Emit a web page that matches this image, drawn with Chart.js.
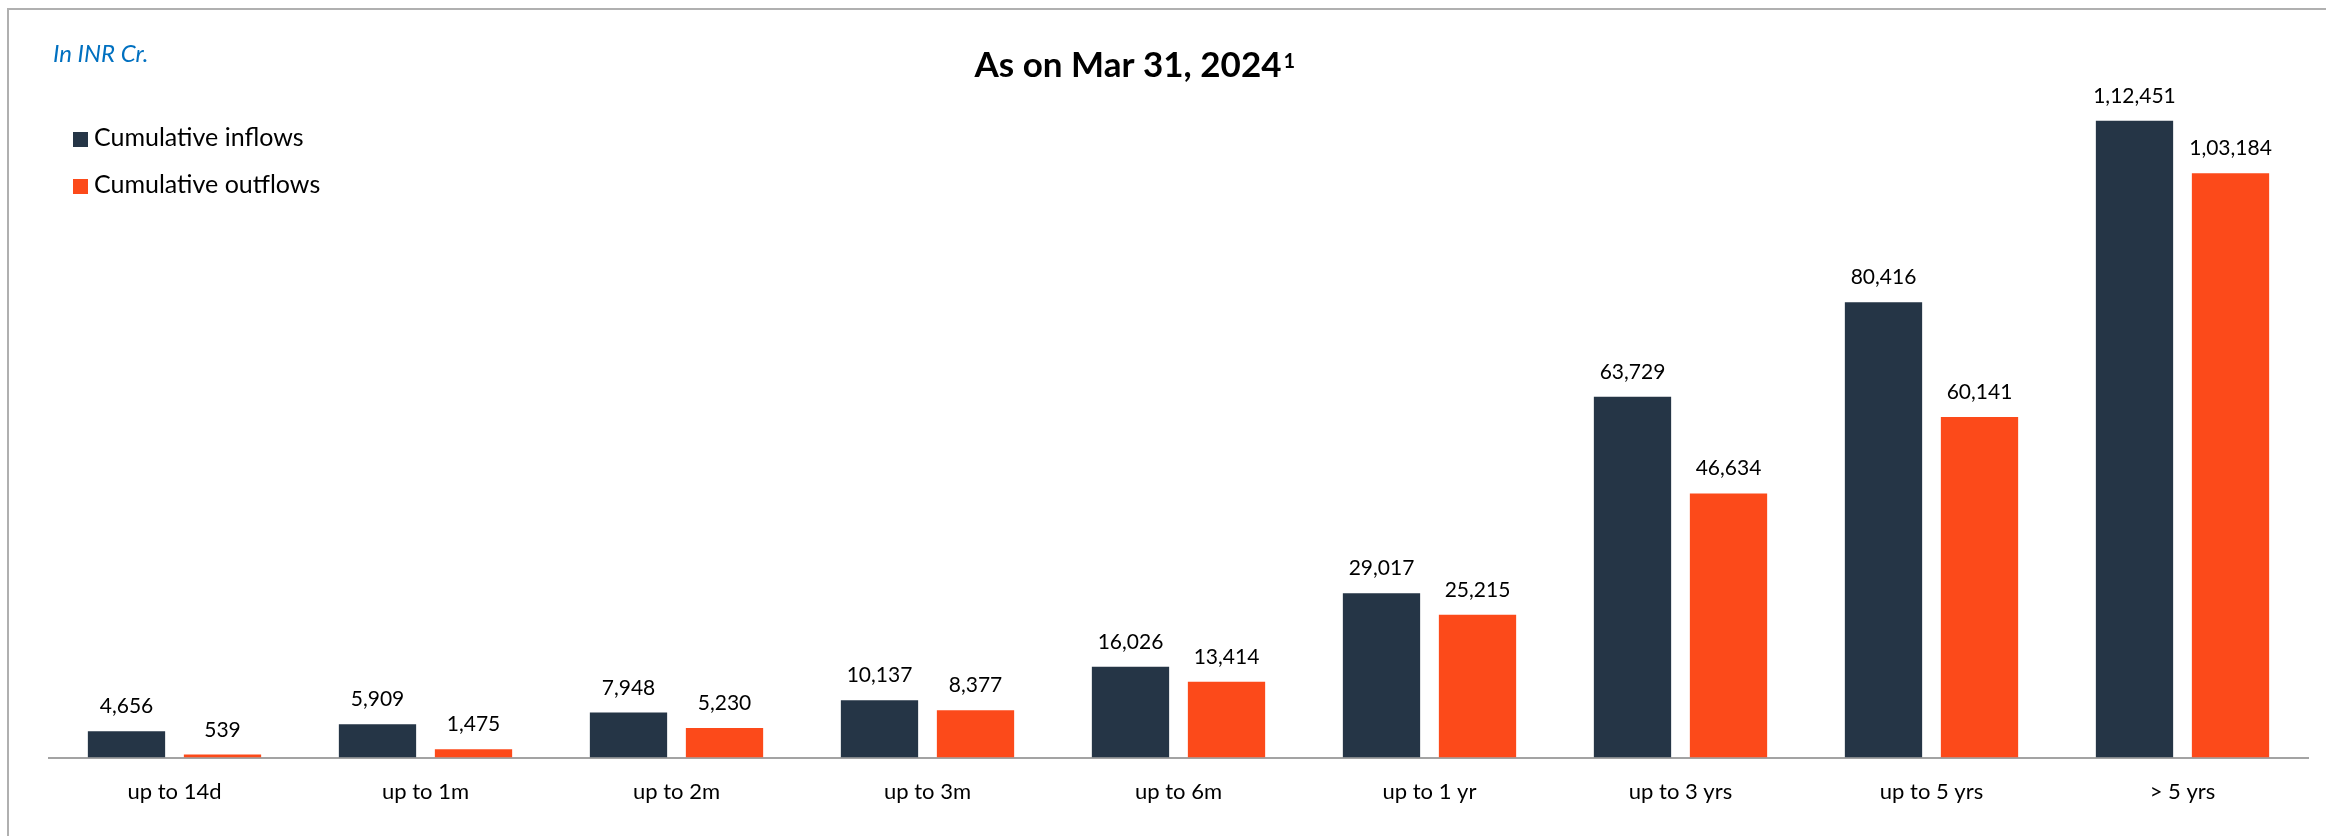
<!DOCTYPE html>
<html lang="en">
<head>
<meta charset="UTF-8">
<title>As on Mar 31, 2024</title>
<script src="https://cdn.jsdelivr.net/npm/chart.js@4.4.1/dist/chart.umd.min.js"></script>
<style>
  html, body { margin: 0; padding: 0; background: #fff; }
  #wrap { position: relative; width: 2326px; height: 836px; overflow: hidden; }
  #frame { position: absolute; left: 7px; top: 8px; right: -10px; bottom: -10px;
           border-top: 2px solid #b0b0b0; border-left: 2px solid #b0b0b0; }
  canvas { position: absolute; left: 0; top: 0; }
</style>
</head>
<body>
<div id="wrap">
  <div id="frame"></div>
  <canvas id="myChart" width="2326" height="836"></canvas>
</div>
<script>
  // buckets and values (INR Cr.)
  var categories = ['up to 14d', 'up to 1m', 'up to 2m', 'up to 3m', 'up to 6m', 'up to 1 yr', 'up to 3 yrs', 'up to 5 yrs', '> 5 yrs'];
  var inflows = [4656, 5909, 7948, 10137, 16026, 29017, 63729, 80416, 112451];
  var outflows = [539, 1475, 5230, 8377, 13414, 25215, 46634, 60141, 103184];
  var seriesNames = ['Cumulative inflows', 'Cumulative outflows'];
  var seriesColors = ['#253546', '#fc4a1a'];
  var titleText = 'As on Mar 31, 2024';
  var titleNote = '1';
  var unitText = 'In INR Cr.';

  var FONT = 'Lato, "Open Sans", sans-serif';

  // indian digit grouping: 1,12,451
  function inr(n) {
    var s = String(Math.round(n));
    if (s.length <= 3) return s;
    var rest = s.slice(0, -3).replace(/\B(?=(\d{2})+(?!\d))/g, ',');
    return rest + ',' + s.slice(-3);
  }

  var valueLabels = {
    id: 'valueLabels',
    afterDatasetsDraw: function (chart) {
      var ctx = chart.ctx;
      ctx.save();
      ctx.font = '21px ' + FONT;
      ctx.fillStyle = '#000';
      ctx.textAlign = 'center';
      ctx.textBaseline = 'alphabetic';
      chart.data.datasets.forEach(function (ds, i) {
        chart.getDatasetMeta(i).data.forEach(function (bar, j) {
          ctx.fillText(inr(ds.data[j]), bar.x, bar.y - 18);
        });
      });
      ctx.restore();
    }
  };

  var headings = {
    id: 'headings',
    afterDraw: function (chart) {
      var ctx = chart.ctx;
      ctx.save();
      // title with footnote mark
      ctx.fillStyle = '#000';
      ctx.font = 'bold 35px ' + FONT;
      ctx.textAlign = 'center';
      ctx.textBaseline = 'alphabetic';
      var tx = 1128;
      ctx.fillText(titleText, tx, 77);
      var w = ctx.measureText(titleText).width;
      ctx.font = 'bold 20px ' + FONT;
      ctx.textAlign = 'left';
      ctx.fillText(titleNote, tx + w / 2 + 2, 68);

      // unit note
      ctx.font = 'italic 24px ' + FONT;
      ctx.fillStyle = '#0070c0';
      ctx.fillText(unitText, 53, 62);

      // legend
      ctx.font = '25px ' + FONT;
      chart.data.datasets.forEach(function (ds, i) {
        var y = 146 + i * 47;
        ctx.fillStyle = ds.backgroundColor;
        ctx.fillRect(73, y - 14, 15, 15);
        ctx.fillStyle = '#000';
        ctx.fillText(ds.label, 94, y);
      });
      ctx.restore();
    }
  };

  var ctx = document.getElementById('myChart').getContext('2d');
  var myChart = new Chart(ctx, {
    type: 'bar',
    data: {
      labels: categories,
      datasets: [{
        label: seriesNames[0],
        data: inflows,
        backgroundColor: seriesColors[0],
        categoryPercentage: 0.765,
        barPercentage: 0.805
      }, {
        label: seriesNames[1],
        data: outflows,
        backgroundColor: seriesColors[1],
        categoryPercentage: 0.765,
        barPercentage: 0.805
      }]
    },
    options: {
      responsive: false,
      animation: false,
      devicePixelRatio: 1,
      layout: { padding: { left: 49, right: 18, top: 78, bottom: 10 } },
      plugins: {
        legend: { display: false },
        title: { display: false },
        tooltip: { enabled: false }
      },
      scales: {
        x: {
          grid: { display: false, drawTicks: false },
          border: { display: true, color: '#a3a3a3', width: 2 },
          ticks: { color: '#000', font: { family: FONT, size: 22 }, padding: 21 }
        },
        y: {
          display: false,
          min: 0,
          max: 120000
        }
      }
    },
    plugins: [valueLabels, headings]
  });
</script>
</body>
</html>
